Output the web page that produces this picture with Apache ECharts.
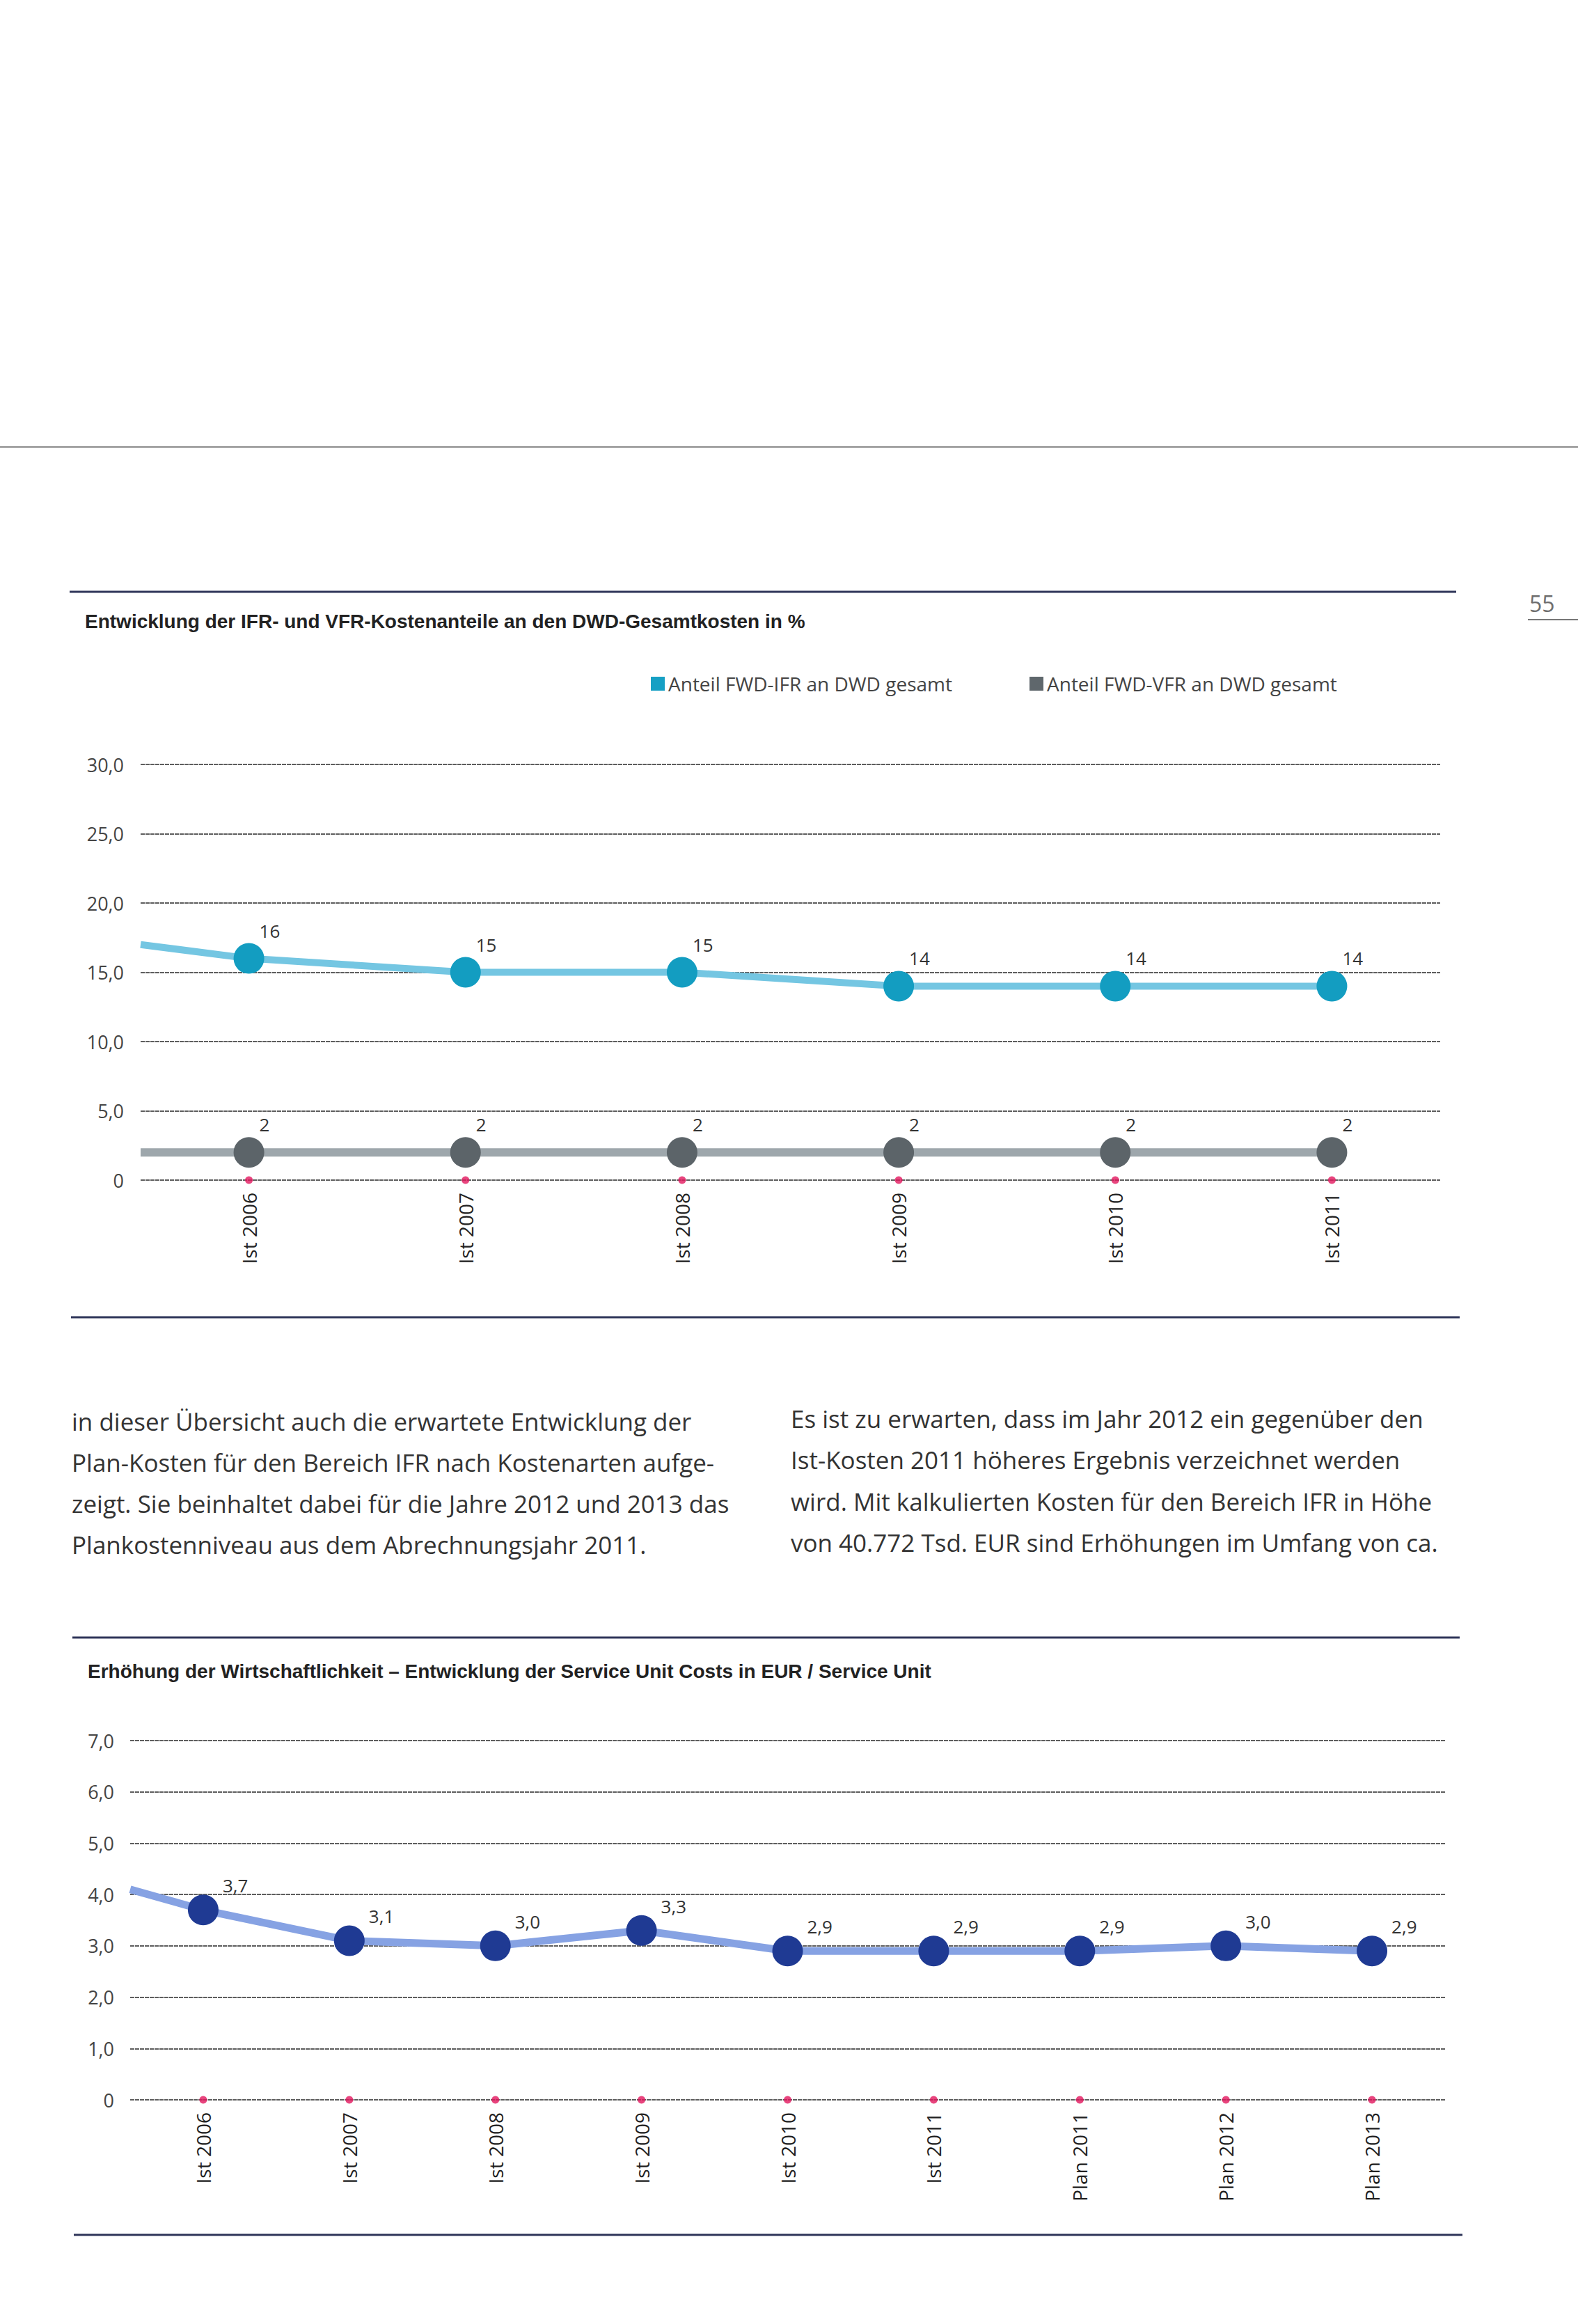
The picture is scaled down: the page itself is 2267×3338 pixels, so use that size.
<!DOCTYPE html>
<html>
<head>
<meta charset="utf-8">
<script src="https://cdn.jsdelivr.net/npm/echarts@6/dist/echarts.min.js"></script>
<style>
html,body{margin:0;padding:0;background:#fff;}
#page{width:2267px;height:3338px;}
</style>
</head>
<body>
<div id="page"></div>
<script>
// ---------- Chart 1 data ----------
const title1 = 'Entwicklung der IFR- und VFR-Kostenanteile an den DWD-Gesamtkosten in %';
const seriesName1 = 'Anteil FWD-IFR an DWD gesamt';
const seriesName2 = 'Anteil FWD-VFR an DWD gesamt';
const categories1 = ['Ist 2006', 'Ist 2007', 'Ist 2008', 'Ist 2009', 'Ist 2010', 'Ist 2011'];
const ifrShare = [16, 15, 15, 14, 14, 14];
const vfrShare = [2, 2, 2, 2, 2, 2];
const ifrLeadIn = 17;   // line value at left edge of plot
const vfrLeadIn = 2;
const yTicks1 = ['0', '5,0', '10,0', '15,0', '20,0', '25,0', '30,0'];

// ---------- Chart 2 data ----------
const title2 = 'Erhöhung der Wirtschaftlichkeit – Entwicklung der Service Unit Costs in EUR / Service Unit';
const seriesName3 = 'Service Unit Costs';
const categories2 = ['Ist 2006', 'Ist 2007', 'Ist 2008', 'Ist 2009', 'Ist 2010', 'Ist 2011', 'Plan 2011', 'Plan 2012', 'Plan 2013'];
const unitCosts = [3.7, 3.1, 3.0, 3.3, 2.9, 2.9, 2.9, 3.0, 2.9];
const unitCostsLeadIn = 4.1;
const yTicks2 = ['0', '1,0', '2,0', '3,0', '4,0', '5,0', '6,0', '7,0'];

// ---------- Body text ----------
const leftColumn = [
  'in dieser Übersicht auch die erwartete Entwicklung der',
  'Plan-Kosten für den Bereich IFR nach Kostenarten aufge-',
  'zeigt. Sie beinhaltet dabei für die Jahre 2012 und 2013 das',
  'Plankostenniveau aus dem Abrechnungsjahr 2011.'
];
const rightColumn = [
  'Es ist zu erwarten, dass im Jahr 2012 ein gegenüber den',
  'Ist-Kosten 2011 höheres Ergebnis verzeichnet werden',
  'wird. Mit kalkulierten Kosten für den Bereich IFR in Höhe',
  'von 40.772 Tsd. EUR sind Erhöhungen im Umfang von ca.'
];
const pageNumber = '55';

// ---------- styles ----------
const FONT = '"Open Sans", "Liberation Sans", sans-serif';
const BOLD = '"Liberation Sans", Arial, sans-serif';
const gridLine = {color: '#5e5e5e', width: 2, type: [6, 1]};
const ruleColor = '#2f3559';
const pink = '#e2165e';

const commaFmt = v => v.toFixed(1).replace('.', ',');

function lineData(lead, vals) {
  return [{value: [-0.5, lead], symbolSize: 0, label: {show: false}}]
    .concat(vals.map((v, i) => [i, v]));
}

const chart = echarts.init(document.getElementById('page'), null, {renderer: 'svg', width: 2267, height: 3338});

const graphic = [];
function hline(x1, x2, y, color, w) {
  graphic.push({type: 'line', shape: {x1: x1, y1: y, x2: x2, y2: y}, style: {stroke: color, lineWidth: w}, silent: true});
}
function text(x, y, str, font, color, bold) {
  graphic.push({type: 'text', x: x, y: y, style: {text: str, fontSize: font, fontFamily: bold ? BOLD : FONT, fontWeight: bold ? 'bold' : 'normal', fill: color, verticalAlign: 'middle', align: 'left'}, silent: true});
}
hline(0, 2267, 642, '#8c8c8c', 2);
hline(100, 2092, 850, ruleColor, 3);
hline(102, 2097, 1892, ruleColor, 3);
hline(104, 2097, 2352, ruleColor, 3);
hline(106, 2101, 3210, ruleColor, 3);
hline(2195, 2267, 890, '#777', 2);
text(2197, 866, pageNumber, 32, '#6e6e6e', false);
text(122, 892, title1, 28, '#222', true);
text(126, 2400, title2, 28, '#222', true);
leftColumn.forEach((s, i) => text(103, 2041 + i * 59, s, 35, '#333', false));
rightColumn.forEach((s, i) => text(1136, 2037 + i * 59.5, s, 35, '#333', false));

const option = {
  animation: false,
  backgroundColor: '#fff',
  graphic: graphic,
  legend: [
    {data: [{name: seriesName1, itemStyle: {color: '#17a0c4'}}], left: 930, top: 963, icon: 'rect', itemWidth: 20, itemHeight: 20, itemGap: 10,
     textStyle: {fontSize: 28, color: '#444', fontFamily: FONT}},
    {data: [{name: seriesName2, itemStyle: {color: '#5f676c'}}], left: 1474, top: 963, icon: 'rect', itemWidth: 20, itemHeight: 20, itemGap: 10,
     textStyle: {fontSize: 28, color: '#444', fontFamily: FONT}}
  ],
  grid: [
    {left: 202, top: 1098, width: 1867, height: 597},
    {left: 187, top: 2500, width: 1889, height: 516}
  ],
  xAxis: [
    {type: 'category', gridIndex: 0, data: categories1, boundaryGap: true,
     axisLine: {show: false}, axisTick: {show: false},
     axisLabel: {rotate: 90, margin: 18, fontSize: 28, color: '#222', fontFamily: FONT}},
    {type: 'value', gridIndex: 0, min: -0.5, max: categories1.length - 0.5, show: false},
    {type: 'category', gridIndex: 1, data: categories2, boundaryGap: true,
     axisLine: {show: false}, axisTick: {show: false},
     axisLabel: {rotate: 90, margin: 18, fontSize: 28, color: '#222', fontFamily: FONT}},
    {type: 'value', gridIndex: 1, min: -0.5, max: categories2.length - 0.5, show: false}
  ],
  yAxis: [
    {type: 'value', gridIndex: 0, min: 0, max: 30, interval: 5,
     axisLine: {show: false}, axisTick: {show: false},
     axisLabel: {margin: 24, fontSize: 27, color: '#444', fontFamily: FONT, formatter: v => yTicks1[Math.round(v / 5)]},
     splitLine: {show: true, lineStyle: gridLine}},
    {type: 'value', gridIndex: 1, min: 0, max: 7, interval: 1,
     axisLine: {show: false}, axisTick: {show: false},
     axisLabel: {margin: 23, fontSize: 27, color: '#444', fontFamily: FONT, formatter: v => yTicks2[Math.round(v)]},
     splitLine: {show: true, lineStyle: gridLine}}
  ],
  series: [
    {name: seriesName1, type: 'line', xAxisIndex: 1, yAxisIndex: 0, clip: false,
     data: lineData(ifrLeadIn, ifrShare),
     symbol: 'circle', symbolSize: 44, showAllSymbol: true,
     lineStyle: {color: '#74c6e2', width: 10}, itemStyle: {color: '#139dc1'},
     label: {show: true, position: 'top', align: 'left', offset: [15, 0], distance: 5, fontSize: 26, color: '#333', fontFamily: FONT,
             formatter: p => String(p.value[1])}},
    {name: seriesName2, type: 'line', xAxisIndex: 1, yAxisIndex: 0, clip: false,
     data: lineData(vfrLeadIn, vfrShare),
     symbol: 'circle', symbolSize: 44, showAllSymbol: true,
     lineStyle: {color: '#9ea7ac', width: 12}, itemStyle: {color: '#5c6469'},
     label: {show: true, position: 'top', align: 'left', offset: [15, 0], distance: 5, fontSize: 26, color: '#333', fontFamily: FONT,
             formatter: p => String(p.value[1])}},
    {name: 'base1', type: 'scatter', xAxisIndex: 1, yAxisIndex: 0, clip: false, z: 5,
     data: categories1.map((c, i) => [i, 0]), symbolSize: 11, itemStyle: {color: pink}},
    {name: seriesName3, type: 'line', xAxisIndex: 3, yAxisIndex: 1, clip: false,
     data: lineData(unitCostsLeadIn, unitCosts),
     symbol: 'circle', symbolSize: 44, showAllSymbol: true,
     lineStyle: {color: '#86a2e3', width: 11}, itemStyle: {color: '#1f3a93'},
     label: {show: true, position: 'top', align: 'left', offset: [28, 5], distance: 5, fontSize: 26, color: '#333', fontFamily: FONT,
             formatter: p => commaFmt(p.value[1])}},
    {name: 'base2', type: 'scatter', xAxisIndex: 3, yAxisIndex: 1, clip: false, z: 5,
     data: categories2.map((c, i) => [i, 0]), symbolSize: 11, itemStyle: {color: pink}}
  ]
};
chart.setOption(option);
</script>
</body>
</html>
